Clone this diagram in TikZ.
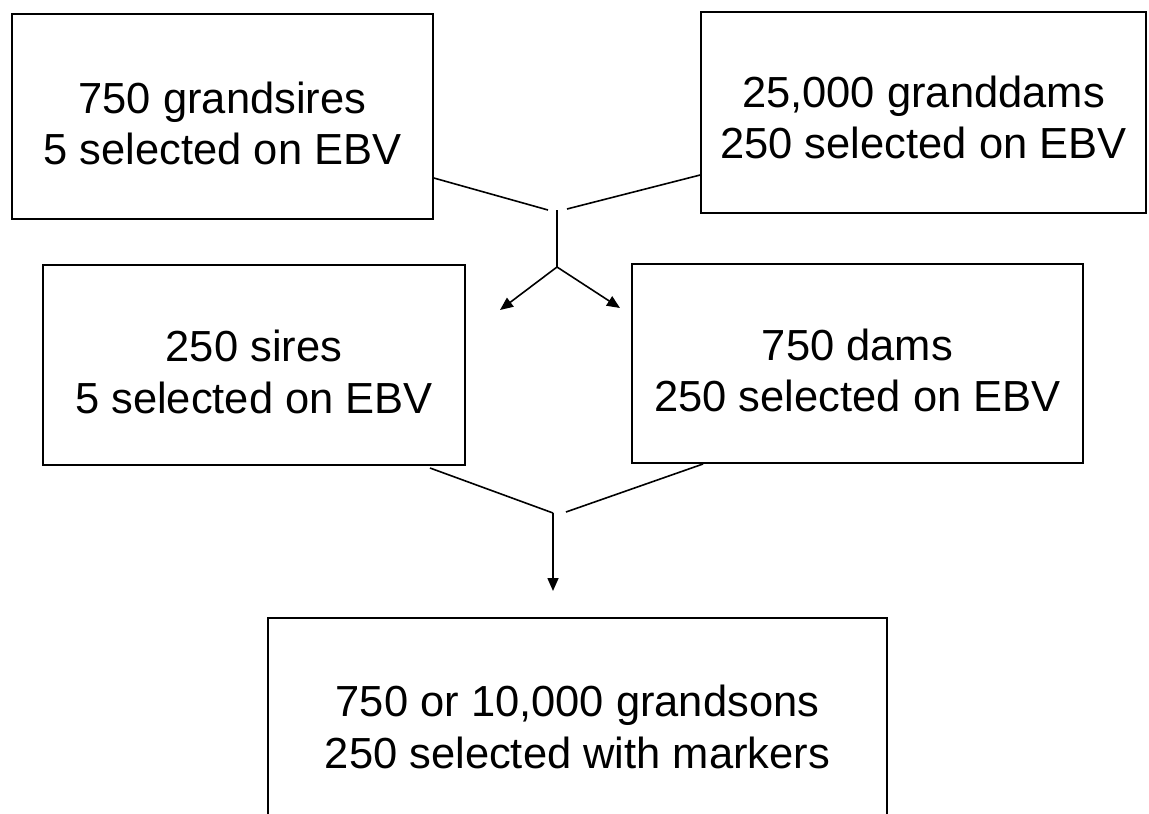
\documentclass[tikz,border=0pt]{standalone}
\usepackage{fontspec}
\setmainfont{Liberation Sans}
\usetikzlibrary{arrows.meta}
\tikzset{
  box/.style={draw, line width=1.6pt, inner sep=0pt},
  txt/.style={inner sep=0pt, align=center, font=\fontsize{43.5}{51.5}\selectfont},
  link/.style={line width=1.6pt},
  arr/.style={line width=1.6pt, -{Triangle[length=13pt,width=11pt]}}
}
\begin{document}
\begin{tikzpicture}[x=1pt,y=-1pt]
\clip (0,0) rectangle (1149,814);
\fill[white] (0,0) rectangle (1149,814);
\node[box, minimum width=421pt, minimum height=205pt] (gs) at (222.5,116.5) {};
\node[box, minimum width=445pt, minimum height=201pt] (gd) at (923.5,112.5) {};
\node[box, minimum width=422pt, minimum height=200pt] (s) at (254,365) {};
\node[box, minimum width=451pt, minimum height=199pt] (d) at (857.5,363.5) {};
\node[box, minimum width=619pt, minimum height=206pt] (gson) at (577.5,721) {};
\node[txt] (gsT) at ([yshift=-7pt]gs.center) {750 grandsires\\5 selected on EBV};
\node[txt] (gdT) at ([yshift=-5pt]gd.center) {25,000 granddams\\250 selected on EBV};
\node[txt] (sT) at ([yshift=-7pt]s.center) {250 sires\\5 selected on EBV};
\node[txt] (dT) at ([yshift=-7pt]d.center) {750 dams\\250 selected on EBV};
\node[txt] (gsonT) at ([yshift=-6pt]gson.center) {750 or 10,000 grandsons\\250 selected with markers};
% upper connector
\coordinate (a1) at (gs.east |- 0,178);
\coordinate (a2) at (548,210);
\coordinate (b1) at (gd.west |- 0,175);
\coordinate (b2) at (567,209);
\coordinate (c1) at (557,210);
\coordinate (c2) at (557,267);
\coordinate (t1) at (500,310);
\coordinate (t2) at (620,308);
\draw[link] (a1) -- (a2);
\draw[link] (b1) -- (b2);
\draw[link] (c1) -- (c2);
\draw[arr] (c2) -- (t1);
\draw[arr] (c2) -- (t2);
% lower connector
\coordinate (e1) at (430,468);
\coordinate (e2) at (553,513);
\coordinate (f1) at (703,464);
\coordinate (f2) at (566,512);
\coordinate (g1) at (553,513);
\coordinate (g2) at (553,591);
\draw[link] (e1) -- (e2);
\draw[link] (f1) -- (f2);
\draw[arr] (g1) -- (g2);
\end{tikzpicture}
\end{document}
